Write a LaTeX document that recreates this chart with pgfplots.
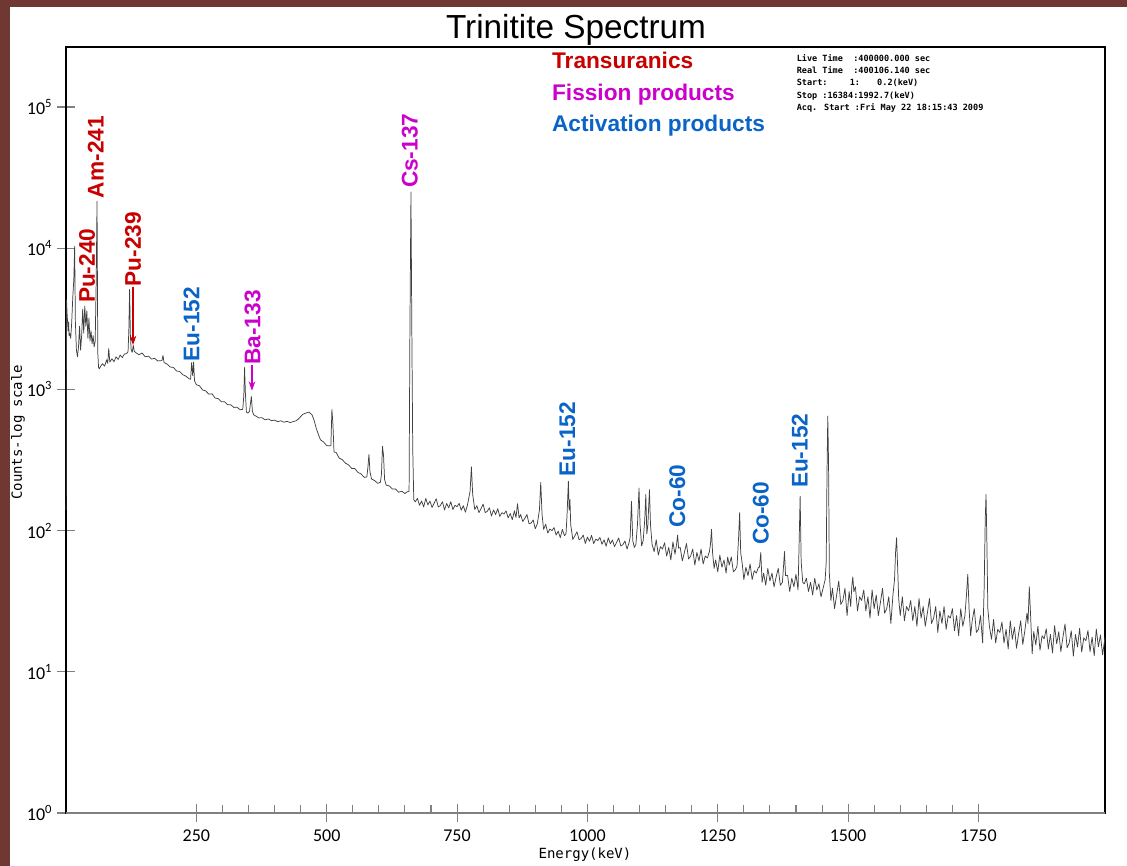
\documentclass[border=0pt]{standalone}
\usepackage{fontspec}
\setmainfont{Liberation Sans}
\newfontfamily\carlito{Carlito}
\newfontfamily\mono{DejaVu Sans Mono}
\usepackage{pgfplots}
\pgfplotsset{compat=1.18}
\usetikzlibrary{arrows.meta}
\definecolor{bgmaroon}{RGB}{112,56,50}
\definecolor{trured}{RGB}{200,0,0}
\definecolor{fismag}{RGB}{204,0,204}
\definecolor{actblue}{RGB}{10,100,200}
\newcommand{\lab}{\bfseries\fontsize{17}{17}\selectfont}
\begin{document}
\begin{tikzpicture}[x=1pt,y=1pt]
\useasboundingbox (0,0) rectangle (845.25,649.5);
\fill[bgmaroon] (0,0) rectangle (845.25,649.5);
\fill[white] (7.5,0) rectangle (845.25,644.25);
\begin{axis}[
  at={(49.5pt,39.75pt)}, anchor=south west,
  scale only axis, width=779.25pt, height=574.5pt,
  xmin=0, xmax=1992.7, ymode=log, ymin=1, ymax=266000,
  clip=false,
  axis line style={line width=1.2pt},
  xtick={250,500,750,1000,1250,1500,1750},
  minor x tick num=4,
  ytick={1,10,100,1000,10000,100000},
  yticklabels={10\textsuperscript{0},10\textsuperscript{1},10\textsuperscript{2},10\textsuperscript{3},10\textsuperscript{4},10\textsuperscript{5}},
  yminorticks=false,
  xtick pos=bottom, ytick pos=left,
  tick align=center,
  major tick length=13.5pt,
  minor tick length=6pt,
  major tick style={gray, line width=0.8pt},
  minor tick style={gray, line width=0.8pt, yshift=3pt},
  ticklabel style={font=\carlito\fontsize{13.5}{13.5}\selectfont},
  xticklabel style={yshift=-2pt},
  /pgf/number format/assume math mode=true,
  /pgf/number format/1000 sep={},
  xlabel={Energy(keV)},
  ylabel={Counts-log scale},
  xlabel style={at={(rel axis cs:0.4995,-0.0548)}, anchor=center, font=\mono\fontsize{10.5}{10.5}\selectfont},
  ylabel style={at={(rel axis cs:-0.0462,0.497)}, anchor=center, font=\mono\fontsize{10.5}{10.5}\selectfont},
]
\addplot[black!75, line width=0.55pt, line join=round, mark=none] table {
E C
0.2 140
1 4300
2 3500
4 2600
5 3000
6 2400
7 2500
9 2300
11 3000
13 4500
15 6000
16.6 10300
18 3000
20 1900
22 1700
24 2000
26 2800
28 1900
30 2400
32 3700
34 2500
36 3900
38 2800
40 3600
42 2300
44 3200
46 2200
48 2600
50 2100
52 2400
54 2000
56 2200
58 6000
59.5 21500
61 1800
62.5 1430
64 1400
66 1450
70 1520
74 1460
78 1620
80 1530
82 1950
84 1560
88 1650
92 1570
96 1700
100 1630
104 1750
108 1680
112 1780
116 1790
119 1850
120.5 2600
122 5100
123.5 2400
125 1900
127 1830
129 2050
131 1860
134 1820
140 1760
146 1810
152 1700
158 1720
164 1640
170 1660
176 1590
184 1600
186 1740
188 1550
194 1510
200 1440
206 1430
212 1350
218 1340
224 1270
230 1240
236 1190
239 1180
241 1550
243 1250
244.7 1560
246.5 1150
250 1080
256 1060
262 990
268 975
274 925
280 930
286 868
292 860
298 818
304 818
310 778
316 778
322 745
328 748
334 718
339 722
341 900
342.5 1430
344 950
346 690
349 680
352 700
353.5 780
355.5 890
357.5 700
360 660
364 648
370 628
376 630
382 608
388 618
394 600
400 606
406 590
412 600
418 585
424 594
430 582
436 592
442 600
448 630
454 665
460 680
466 690
472 660
476 600
480 530
484 480
488 440
494 424
500 400
505 398
508 400
510 720
512 560
514 360
518 358
524 326
530 318
536 300
542 292
548 275
554 275
560 258
566 252
572 238
577 240
579 280
581 346
583 260
586 232
592 226
598 216
603 220
605 250
607 395
609 340
611 230
614 210
620 207
626 197
632 197
638 187
644 190
650 183
654 188
658 190
659.5 2300
661.6 25000
663.3 2500
665 380
667 165
670 160
674 169
678 151
682 162
686 147
690 169
694 152
698 162
702 146
706 156
710 168
714 147
718 150.5
722 160
726 140
730 155.5
734 145
738 160
742 141
746 151
750 148
754 156
758 139.5
762 150
766 135
770 152
775 190
777.5 283
780 180
784 141
788 150
792 134
796 143
800 154
804 134
808 137
812 145
816 127
820 140
824 130
828 143
832 126
836 134
840 131
844 138
848 123
852 132
856 119.5
860 138
863 124
866 155
869 123
872 130
876 116
880 122
884 130
888 112
892 113
896 119
900 103
904 112
908 140
910.5 219
913 130
916 102
920 111
924 96
928 102.5
932 100
936 105
940 93
944 99
948 89
952 102
956 92
959 95
961 130
963.5 224
965 140
966.5 166
968 110
972 86.5
976 92
980 98
984 86
988 88
992 93
996 81
1000 90
1004 84
1008 92.5
1012 81
1016 87
1020 85
1024 89.5
1028 80
1032 86
1036 77.5
1040 89
1044 80.6
1048 85.7
1052 77
1056 82.5
1060 88.7
1064 77.8
1068 79.5
1072 84.4
1076 74
1080 82.4
1082 90
1084.5 161
1087 85
1090 76
1093 80
1096 110
1099 200
1101 110
1104 78
1107 85
1110 120
1112 180
1114 95
1116 110
1119 195
1121 110
1124 80
1128 71
1132 86
1136 67
1140 77
1144 74
1148 82
1152 66
1156 76
1160 62
1164 83
1168 68
1171 80
1173 93
1175 75
1178 76
1182 61
1186 70
1190 81
1194 63
1198 66
1202 74
1206 57
1210 70
1214 61
1218 74
1222 58
1226 66
1230 64
1234 71
1236 80
1238 102
1240 70
1243 54
1246 62
1250 51
1254 67
1258 55
1262 62
1266 50
1269 65
1272 57
1276 65
1280 51
1284 53
1287 56
1290 90
1292 134
1294 70
1297 58
1300 45
1304 55
1308 48
1312 58
1316 45
1320 52
1324 50
1328 55
1330 55
1332.5 70
1335 43
1338 50
1342 41
1346 54
1350 44
1354 50
1358 40
1362 47
1366 54
1370 41
1374 43
1376 55
1378 71
1380 48
1384 48
1388 37
1392 46
1396 40
1400 49
1404 38
1406 80
1408 175
1410 60
1413 43
1416 42
1420 46
1424 37
1428 43
1432 35
1436 46
1440 38
1444 42
1448 34
1452 39
1456 45
1458 60
1459.5 250
1461 647
1462.5 300
1464 50
1467 32
1470 39
1474 28
1478 35
1482 44
1486 30
1490 32
1494 39
1498 25
1502 37
1505 29
1507 40
1509 47
1511 37
1514 40
1518 27
1522 34
1526 32
1530 38
1534 27
1538 34
1542 24
1546 38
1550 28
1554 35
1558 25
1562 31
1566 39
1570 26
1574 28
1578 34
1582 22
1586 35
1589 45
1591 70
1593 89
1595 55
1597 33
1600 25
1604 34
1608 23
1612 29
1616 27
1620 32
1624 23
1628 29
1632 21
1636 33
1640 24
1644 29
1648 21
1652 26
1656 33
1660 22
1664 24
1668 29
1672 19
1676 27
1680 22
1684 29
1688 20
1692 25
1696 24
1700 28
1704 19.5
1708 25
1712 18
1716 28
1720 21
1724 25
1727 35
1729.5 49
1732 28
1735 18
1738 23
1742 28
1746 19
1750 20
1754 25
1758 16
1761 40
1763 120
1764.5 180
1766 90
1768 28
1771 21
1775 17
1779 23.5
1783 16
1787 20
1791 19
1795 22.5
1799 16
1803 20
1807 14.5
1811 23
1815 17
1819 20.7
1823 14.7
1827 18.6
1831 23
1835 15.6
1839 19.6
1843 26
1845 22
1847.5 40
1850 25
1853 13.4
1856 19.3
1860 15.5
1864 21
1868 14.2
1872 18
1876 17.1
1880 20.2
1884 14.5
1888 18.4
1892 13.6
1896 21.2
1900 15.8
1904 19.2
1908 13.9
1912 17.6
1916 21.8
1920 14.8
1924 16
1928 19.5
1932 12.9
1936 18.4
1940 15
1944 20.3
1948 13.8
1952 17.4
1956 16.6
1960 19.6
1964 13.9
1968 17.6
1972 13
1976 20.1
1980 15
1984 18.2
1988 13.2
1992.7 17.5
};
\draw[gray, line width=1.2pt] (rel axis cs:0,0) -- (rel axis cs:1,0);
% title
\node[anchor=base, font=\fontsize{25}{25}\selectfont] at (rel axis cs:0.4909,1.0114) {Trinitite Spectrum};
% category legend
\node[anchor=base west, inner sep=0, text=trured, font=\lab] at (axis cs:931.8,187900) {Transuranics};
\node[anchor=base west, inner sep=0, text=fismag, font=\lab] at (axis cs:931.8,110900) {Fission products};
\node[anchor=base west, inner sep=0, text=actblue, font=\lab] at (axis cs:931.8,66830) {Activation products};
% info block
\node[anchor=north west, inner sep=0, align=left, font=\mono\bfseries\fontsize{6.4}{9.2}\selectfont] at (axis cs:1401,237000) {Live Time \ :400000.000 sec\\Real Time \ :400106.140 sec\\Start: \ \ \ 1: \ \ 0.2(keV)\\Stop :16384:1992.7(keV)\\Acq. Start :Fri May 22 18:15:43 2009};
% peak labels
\node[rotate=90, anchor=west, inner sep=0, text=trured, font=\lab] at (axis cs:40.3,4074) {Pu-240};
\node[rotate=90, anchor=west, inner sep=0, text=trured, font=\lab] at (axis cs:57.2,22550) {Am-241};
\node[rotate=90, anchor=west, inner sep=0, text=trured, font=\lab] at (axis cs:128.5,5337) {Pu-239};
\draw[trured, line width=0.9pt, -{Stealth[length=7pt,width=5pt]}] (axis cs:128.5,5337) -- (axis cs:128.5,2063);
\node[rotate=90, anchor=west, inner sep=0, text=actblue, font=\lab] at (axis cs:240.6,1571) {Eu-152};
\node[rotate=90, anchor=west, inner sep=0, text=fismag, font=\lab] at (axis cs:358,1489) {Ba-133};
\draw[fismag, line width=0.9pt, -{Stealth[length=7pt,width=5pt]}] (axis cs:356.6,1489) -- (axis cs:356.6,979);
\node[rotate=90, anchor=west, inner sep=0, text=fismag, font=\lab] at (axis cs:659.5,26570) {Cs-137};
\node[rotate=90, anchor=west, inner sep=0, text=actblue, font=\lab] at (axis cs:961.5,241) {Eu-152};
\node[rotate=90, anchor=west, inner sep=0, text=actblue, font=\lab] at (axis cs:1172.3,104.3) {Co-60};
\node[rotate=90, anchor=west, inner sep=0, text=actblue, font=\lab] at (axis cs:1332.5,79) {Co-60};
\node[rotate=90, anchor=west, inner sep=0, text=actblue, font=\lab] at (axis cs:1407.2,199.5) {Eu-152};
\end{axis}
\end{tikzpicture}
\end{document}
